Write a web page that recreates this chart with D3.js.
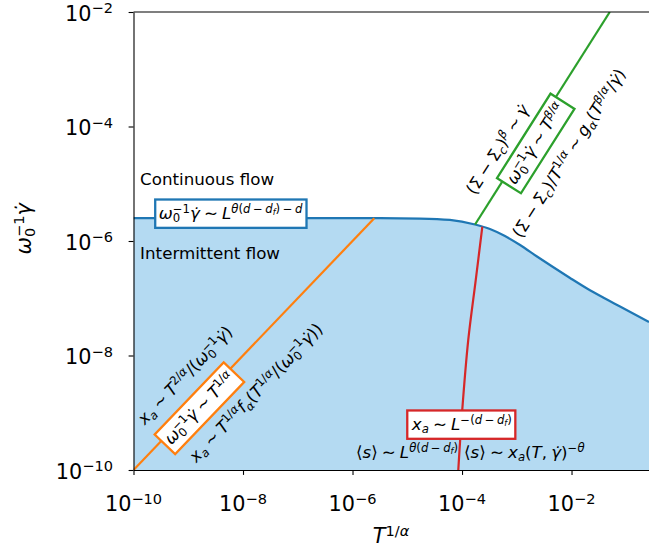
<!DOCTYPE html>
<html><head><meta charset="utf-8">
<script src="https://cdn.jsdelivr.net/npm/d3@7"></script>
<style>
html,body{margin:0;padding:0;background:#fff;}
svg text{font-family:"DejaVu Sans",sans-serif; white-space:pre;}
</style></head><body>
<svg id="chart" width="649" height="550"></svg>
<script>
// ---------------- data ----------------
const xLim = [1e-10, 0.26];
const yLim = [1e-10, 1e-2];
const xTicks = [1e-10, 1e-8, 1e-6, 1e-4, 1e-2];
const xTickLabels = ["10^{−10}", "10^{−8}", "10^{−6}", "10^{−4}", "10^{−2}"];
const yTicks = [1e-10, 1e-8, 1e-6, 1e-4, 1e-2];
const yTickLabels = ["10^{−10}", "10^{−8}", "10^{−6}", "10^{−4}", "10^{−2}"];

// blue crossover curve (boundary of intermittent region)
const blueX = [1e-10, 3.2e-6, 1.7e-5, 6.0e-5, 1.73e-4, 3.24e-4, 6.09e-4, 1.15e-3, 2.34e-3, 4.59e-3, 9.4e-3, 1.92e-2, 3.93e-2, 7.69e-2, 0.26];
const blueY = [2.5e-6, 2.5e-6, 2.46e-6, 2.33e-6, 1.94e-6, 1.62e-6, 1.22e-6, 8.5e-7, 5.36e-7, 3.51e-7, 2.26e-7, 1.48e-7, 1.01e-7, 7.18e-8, 3.85e-8];
// orange line
const orangeX = [1e-10, 2.5e-6];
const orangeY = [1e-10, 2.5e-6];
// green line
const greenX = [1.73e-4, 5e-2];
const greenY = [1.94e-6, 1e-2];
// red curve
const redX = [2.35e-4, 1.78e-4, 1.30e-4, 1.01e-4, 8.55e-5];
const redY = [1.78e-6, 2.08e-7, 1.87e-8, 1.12e-9, 1e-10];

const xLabel = "T^{1/α}";
const yLabel = "ω_{0}^{−1}γ̇";

// annotations: text, anchor point (data coords)
const annotations = [
  {tex: "ω_{0}^{−1}γ̇ ∼ L^{θ(d − d_{f}) − d}", x: 6.0e-9, y: 3.0e-6, mode: "center", box: "#1f77b4"},
  {tex: "Continuous flow", x: 1.32e-10, y: 9.5e-6, mode: "start", plain: true},
  {tex: "Intermittent flow", x: 1.32e-10, y: 4.85e-7, mode: "start", plain: true},
  {tex: "ω_{0}^{−1}γ̇ ∼ T^{1/α}", x: 1.6e-9, y: 1.2e-9, mode: "center", box: "#ff7f0e", rot: "orange"},
  {tex: "x_{a} ∼ T^{2/α}/(ω_{0}^{−1}γ̇)", x: 8.7e-10, y: 4.4e-9, mode: "center", rot: "orange"},
  {tex: "x_{a} ∼ T^{1/α}f_{α}(T^{1/α}/(ω_{0}^{−1}γ̇))", x: 1.71e-8, y: 2.19e-9, mode: "center", rot: "orange"},
  {tex: "ω_{0}^{−1}γ̇ ∼ T^{β/α}", x: 2.22e-3, y: 5.05e-5, mode: "center", box: "#2ca02c", rot: "green"},
  {tex: "(Σ − Σ_{c})^{β} ∼ γ̇", x: 4.6e-4, y: 4.0e-5, mode: "center", rot: "green"},
  {tex: "(Σ − Σ_{c})/T^{1/α} ∼ g_{α}(T^{β/α}/γ̇)", x: 9.1e-3, y: 3.39e-5, mode: "center", rot: "green"},
  {tex: "x_{a} ∼ L^{−(d − d_{f})}", x: 9.7e-5, y: 6.2e-10, mode: "center", box: "#d62728"},
  {tex: "⟨s⟩ ∼ L^{θ(d − d_{f})}", x: 8.45e-5, y: 1.65e-10, mode: "end"},
  {tex: "⟨s⟩ ∼ x_{a}(T, γ̇)^{−θ}", x: 1.09e-4, y: 1.65e-10, mode: "start"}
];

// ---------------- setup ----------------
const svg = d3.select("#chart");
const pLeft = 133.5, pRight = 649, pTop = 12, pBottom = 470;
const x = d3.scaleLog().domain(xLim).range([pLeft, pRight]);
const y = d3.scaleLog().domain(yLim).range([pBottom, pTop]);
const tickFs = 20.8, annFs = 16.7;

// ---------------- mini math renderer ----------------
function parseMath(str) {
  const chars = Array.from(str);
  let i = 0;
  function group(inBrace) {
    const out = []; let buf = "";
    const flush = () => { if (buf) { out.push({t: "s", s: buf}); buf = ""; } };
    while (i < chars.length) {
      const ch = chars[i];
      if (inBrace && ch === "}") { i++; break; }
      if (ch === "^" || ch === "_") {
        flush(); i++;
        let c;
        if (chars[i] === "{") { i++; c = group(true); }
        else { c = [{t: "s", s: chars[i]}]; i++; }
        out.push({t: ch === "^" ? "sup" : "sub", c});
      } else { buf += ch; i++; }
    }
    flush();
    return out;
  }
  return group(false);
}
function runs(s) {
  const res = []; let cur = null;
  for (const ch of Array.from(s)) {
    let it;
    if (/[\u0300-\u036f]/.test(ch)) it = cur ? cur.it : false;
    else it = /[A-Za-z\u03b1-\u03c9]/.test(ch);
    if (cur && cur.it === it) cur.s += ch; else { cur = {s: ch, it}; res.push(cur); }
  }
  return res;
}
function renderMath(textSel, str, fs) {
  const nodes = parseMath(str);
  let curShift = 0, pendingDx = 0;
  function addSpan(s, it, size, shift) {
    const sp = textSel.append("tspan").text(s)
      .attr("font-size", size)
      .attr("font-style", it ? "italic" : "normal")
      .attr("dy", shift - curShift);
    if (pendingDx) { sp.attr("dx", pendingDx); pendingDx = 0; }
    curShift = shift;
    return sp.node().getComputedTextLength();
  }
  function emit(list, size, shift) {
    let w = 0;
    for (let k = 0; k < list.length; k++) {
      const n = list[k];
      if (n.t === "s") {
        for (const r of runs(n.s)) w += addSpan(r.s, r.it, size, shift);
      } else {
        const ss = size * 0.7;
        const subShift = shift + size * 0.2, supShift = shift - size * 0.36;
        const nx = list[k + 1];
        if (n.t === "sub" && nx && nx.t === "sup") {
          const w1 = emit(n.c, ss, subShift);
          pendingDx = -w1;
          const w2 = emit(nx.c, ss, supShift);
          if (w1 > w2) pendingDx = w1 - w2;
          w += Math.max(w1, w2);
          k++;
        } else {
          w += emit(n.c, ss, n.t === "sub" ? subShift : supShift);
        }
      }
    }
    return w;
  }
  emit(nodes, fs, 0);
}

// ---------------- plot area ----------------
svg.append("clipPath").attr("id", "clip").append("rect")
  .attr("x", pLeft).attr("y", pTop).attr("width", pRight - pLeft).attr("height", pBottom - pTop);
const plot = svg.append("g").attr("clip-path", "url(#clip)");

const blue = blueX.map((v, i) => ({x: v, y: blueY[i]}));
plot.append("path").datum(blue)
  .attr("d", d3.area().x(d => x(d.x)).y0(y(yLim[0])).y1(d => y(d.y)).curve(d3.curveMonotoneX))
  .attr("fill", "#b4daf2");

function drawLine(xs, ys, color, curve) {
  const pts = xs.map((v, i) => ({x: v, y: ys[i]}));
  plot.append("path").datum(pts)
    .attr("d", d3.line().x(d => x(d.x)).y(d => y(d.y)).curve(curve))
    .attr("fill", "none").attr("stroke", color).attr("stroke-width", 2.2);
}
drawLine(blueX, blueY, "#1f77b4", d3.curveMonotoneX);
drawLine(orangeX, orangeY, "#ff7f0e", d3.curveLinear);
drawLine(greenX, greenY, "#2ca02c", d3.curveLinear);
drawLine(redX, redY, "#d62728", d3.curveCatmullRom);

const angles = {
  orange: Math.atan2(y(orangeY[1]) - y(orangeY[0]), x(orangeX[1]) - x(orangeX[0])) * 180 / Math.PI,
  green: Math.atan2(y(greenY[1]) - y(greenY[0]), x(greenX[1]) - x(greenX[0])) * 180 / Math.PI
};

// ---------------- annotations ----------------
annotations.forEach(a => {
  const g = svg.append("g")
    .attr("transform", `translate(${x(a.x)},${y(a.y)}) rotate(${a.rot ? angles[a.rot] : 0})`);
  const rect = a.box ? g.append("rect") : null;
  const t = g.append("text").attr("font-size", annFs).attr("fill", "#000");
  if (a.plain) t.text(a.tex);
  else { t.style("word-spacing", "-1.2px"); renderMath(t, a.tex, annFs); }
  const bb = t.node().getBBox();
  let dx = 0, dy = 0;
  if (a.mode === "center") { dx = -(bb.x + bb.width / 2); dy = -(bb.y + bb.height / 2); }
  else if (a.mode === "end") { dx = -(bb.x + bb.width); }
  t.attr("transform", `translate(${dx},${dy})`);
  if (rect) {
    const pad = 3.5;
    rect.attr("x", bb.x + dx - pad).attr("y", bb.y + dy - pad + 1)
      .attr("width", bb.width + 2 * pad).attr("height", bb.height + 2 * pad - 2)
      .attr("fill", "#fff").attr("stroke", a.box).attr("stroke-width", 2.3);
  }
});

// ---------------- axes ----------------
const axisColor = "#000";
const xAxis = svg.append("g").attr("transform", `translate(0,${pBottom})`)
  .call(d3.axisBottom(x).tickValues(xTicks).tickFormat("").tickSize(4.9).tickSizeOuter(0));
const yAxis = svg.append("g").attr("transform", `translate(${pLeft},0)`)
  .call(d3.axisLeft(y).tickValues(yTicks).tickFormat("").tickSize(4.9).tickSizeOuter(0));
[xAxis, yAxis].forEach(ax => {
  ax.selectAll("path.domain").attr("stroke", axisColor).attr("stroke-width", 1.1);
  ax.selectAll(".tick line").attr("stroke", axisColor).attr("stroke-width", 1.1);
});
svg.append("line").attr("x1", pLeft).attr("x2", pRight).attr("y1", y(yLim[1])).attr("y2", y(yLim[1]))
  .attr("stroke", axisColor).attr("stroke-width", 1.1);

xTicks.forEach((v, i) => {
  const t = svg.append("text").attr("font-size", tickFs).attr("fill", "#000");
  renderMath(t, xTickLabels[i], tickFs);
  const bb = t.node().getBBox();
  t.attr("transform", `translate(${x(v) - (bb.x + bb.width / 2)},${pBottom + 41})`);
});
yTicks.forEach((v, i) => {
  const t = svg.append("text").attr("font-size", tickFs).attr("fill", "#000");
  renderMath(t, yTickLabels[i], tickFs);
  const bb = t.node().getBBox();
  t.attr("transform", `translate(${pLeft - 20.5 - (bb.x + bb.width)},${y(v) + 8.5})`);
});

// axis labels
{
  const t = svg.append("text").attr("font-size", tickFs).attr("fill", "#000");
  renderMath(t, xLabel, tickFs);
  const bb = t.node().getBBox();
  t.attr("transform", `translate(${(pLeft + pRight) / 2 - (bb.x + bb.width / 2)},${pBottom + 73})`);
}
{
  const g = svg.append("g").attr("transform", `translate(24,228) rotate(-90)`);
  const t = g.append("text").attr("font-size", tickFs).attr("fill", "#000");
  renderMath(t, yLabel, tickFs);
  const bb = t.node().getBBox();
  t.attr("transform", `translate(${-(bb.x + bb.width / 2)},${-(bb.y + bb.height / 2)})`);
}
</script>
</body></html>
